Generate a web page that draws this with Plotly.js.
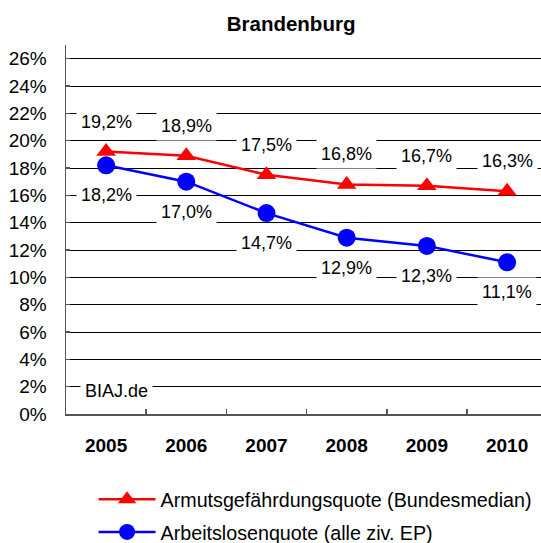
<!DOCTYPE html>
<html>
<head>
<meta charset="utf-8">
<script src="https://cdn.plot.ly/plotly-3.0.1.min.js"></script>
<style>html,body{margin:0;padding:0;background:#fff;}#chart{width:541px;height:543px;}</style>
</head>
<body>
<div id="chart"></div>
<script>
const years = ['2005', '2006', '2007', '2008', '2009', '2010'];
const armutsquote = [19.2, 18.9, 17.5, 16.8, 16.7, 16.3];
const arbeitslosenquote = [18.2, 17.0, 14.7, 12.9, 12.3, 11.1];
const yTicks = [0, 2, 4, 6, 8, 10, 12, 14, 16, 18, 20, 22, 24, 26];
const seriesNames = ['Armutsgefährdungsquote (Bundesmedian)', 'Arbeitslosenquote (alle ziv. EP)'];
const chartTitle = 'Brandenburg';
const sourceNote = 'BIAJ.de';

const FONT = 'Liberation Sans, Arial, sans-serif';
const fmt = v => v.toFixed(1).replace('.', ',') + '%';

const traces = [
  {
    x: years, y: armutsquote, name: seriesNames[0], type: 'scatter', mode: 'lines+markers',
    line: {color: '#ff0000', width: 2.5},
    marker: {symbol: 'triangle-up', size: 17, color: '#ff0000'},
    legendgroup: 'a', hoverinfo: 'skip'
  },
  {
    x: years, y: arbeitslosenquote, name: seriesNames[1], type: 'scatter', mode: 'lines+markers',
    line: {color: '#0000ff', width: 2.5},
    marker: {symbol: 'circle', size: 18, color: '#0000ff'},
    legendgroup: 'b', hoverinfo: 'skip'
  }
];

const annotations = [];
years.forEach((yr, i) => {
  annotations.push({x: i, y: armutsquote[i], xref: 'x', yref: 'y', text: fmt(armutsquote[i]),
    showarrow: false, yshift: 30, bgcolor: '#ffffff', borderpad: 4,
    font: {family: FONT, size: 18, color: '#000'}});
  annotations.push({x: i, y: arbeitslosenquote[i], xref: 'x', yref: 'y', text: fmt(arbeitslosenquote[i]),
    showarrow: false, yshift: -30, bgcolor: '#ffffff', borderpad: 4,
    font: {family: FONT, size: 18, color: '#000'}});
});
annotations.push({x: 0.03, y: 2, xref: 'paper', yref: 'y', xanchor: 'left', text: sourceNote,
  showarrow: false, bgcolor: '#ffffff', borderpad: 4, yshift: -4,
  font: {family: FONT, size: 18, color: '#000'}});

const layout = {
  width: 541, height: 543,
  margin: {l: 66, r: 0, t: 45, b: 129, pad: 0, autoexpand: false},
  paper_bgcolor: '#ffffff', plot_bgcolor: '#ffffff',
  font: {family: FONT, color: '#000'},
  title: {text: chartTitle, font: {family: FONT, size: 20.5, weight: 'bold', color: '#000'},
    x: 0.538, xanchor: 'center', xref: 'container', y: 0.957, yanchor: 'middle', yref: 'container'},
  xaxis: {
    type: 'category', range: [-0.5, 5.423], fixedrange: true,
    showline: true, linecolor: '#555', linewidth: 1.5,
    ticks: 'inside', tickson: 'boundaries', ticklen: 5, tickcolor: '#555', tickwidth: 1.5,
    showgrid: false, zeroline: false,
    tickfont: {family: FONT, size: 19, weight: 'bold', color: '#000'},
    ticklabelstandoff: 14
  },
  yaxis: {
    range: [0, 27], fixedrange: true, tickmode: 'array', tickvals: yTicks,
    ticktext: yTicks.map(v => v + '%'),
    showline: true, linecolor: '#555', linewidth: 1.5,
    ticks: 'inside', ticklen: 4, tickcolor: '#555', tickwidth: 1.5,
    showgrid: true, gridcolor: '#000', gridwidth: 1, zeroline: false,
    tickfont: {family: FONT, size: 19, color: '#000'},
    ticklabelstandoff: 14
  },
  showlegend: true,
  legend: {
    x: 0.058, xanchor: 'left', y: 0.116, yanchor: 'top', yref: 'container',
    orientation: 'v', traceorder: 'grouped', tracegroupgap: 4, itemwidth: 57,
    font: {family: FONT, size: 19.7, color: '#000'}, bgcolor: 'rgba(0,0,0,0)'
  },
  annotations: annotations
};

Plotly.newPlot('chart', traces, layout, {displayModeBar: false, staticPlot: true});
</script>
</body>
</html>
